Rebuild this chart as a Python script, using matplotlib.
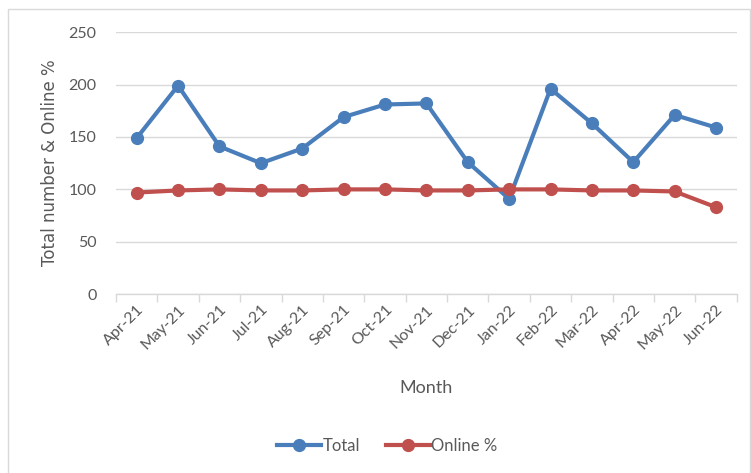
import matplotlib
matplotlib.use("Agg")
import matplotlib.pyplot as plt
from matplotlib.patches import Rectangle
from matplotlib.lines import Line2D

months = ["Apr-21", "May-21", "Jun-21", "Jul-21", "Aug-21", "Sep-21", "Oct-21",
          "Nov-21", "Dec-21", "Jan-22", "Feb-22", "Mar-22", "Apr-22", "May-22", "Jun-22"]
total = [149, 199, 141, 125, 139, 169, 181, 182, 126, 91, 196, 163, 126, 171, 159]
online_pct = [97, 99, 100, 99, 99, 100, 100, 99, 99, 100, 100, 99, 99, 98, 83]
yticks = [0, 50, 100, 150, 200, 250]

blue = "#4A7EBB"
red = "#C0504D"
gray = "#595959"

plt.rcParams['font.family'] = ['Lato', 'DejaVu Sans']

fig = plt.figure(figsize=(7.51, 4.73), dpi=100)
fig.patches.append(Rectangle((0.011, -0.01), 0.988, 0.99, transform=fig.transFigure,
                             fill=False, edgecolor="#D9D9D9", linewidth=1.0))
ax = fig.add_axes([0.1545, 0.378, 0.8265, 0.554])

x = list(range(len(months)))
ax.plot(x, total, color=blue, lw=3.0, marker='o', ms=8.5, label="Total", zorder=3)
ax.plot(x, online_pct, color=red, lw=3.0, marker='o', ms=8.5, label="Online %", zorder=4)

ax.set_xlim(-0.5, len(months) - 0.5)
ax.set_ylim(0, 250)
ax.set_yticks(yticks)
ax.yaxis.grid(True, color="#D9D9D9", lw=1)
ax.set_axisbelow(True)
for s in ["top", "right", "left"]:
    ax.spines[s].set_visible(False)
ax.spines["bottom"].set_color("#D9D9D9")
ax.spines["bottom"].set_linewidth(1)

ax.set_xticks(x)
ax.set_xticklabels(months, rotation=45, ha='right', rotation_mode='anchor',
                   fontsize=11.5, color=gray)
ax.tick_params(axis='x', length=0, pad=6)
ax.set_xticks([i - 0.5 for i in range(len(months) + 1)], minor=True)
ax.tick_params(axis='x', which='minor', length=6, color="#D9D9D9", width=1)
ax.tick_params(axis='y', length=0, labelsize=11.5, labelcolor=gray, pad=14)

ax.set_xlabel("Month", fontsize=13, color=gray, labelpad=20)
ax.set_ylabel("Total number & Online %", fontsize=12, color=gray,
              family=['DejaVu Sans'], labelpad=7)

handles = [Line2D([], [], color=blue, lw=3.0, marker='o', ms=8.5),
           Line2D([], [], color=red, lw=3.0, marker='o', ms=8.5)]
fig.legend(handles, ["Total", "Online %"], loc='center', bbox_to_anchor=(0.516, 0.058),
           ncol=2, frameon=False, fontsize=12, labelcolor=gray, handlelength=2.6,
           handletextpad=0.1, columnspacing=1.6)

fig.savefig("out.png", dpi=100)
